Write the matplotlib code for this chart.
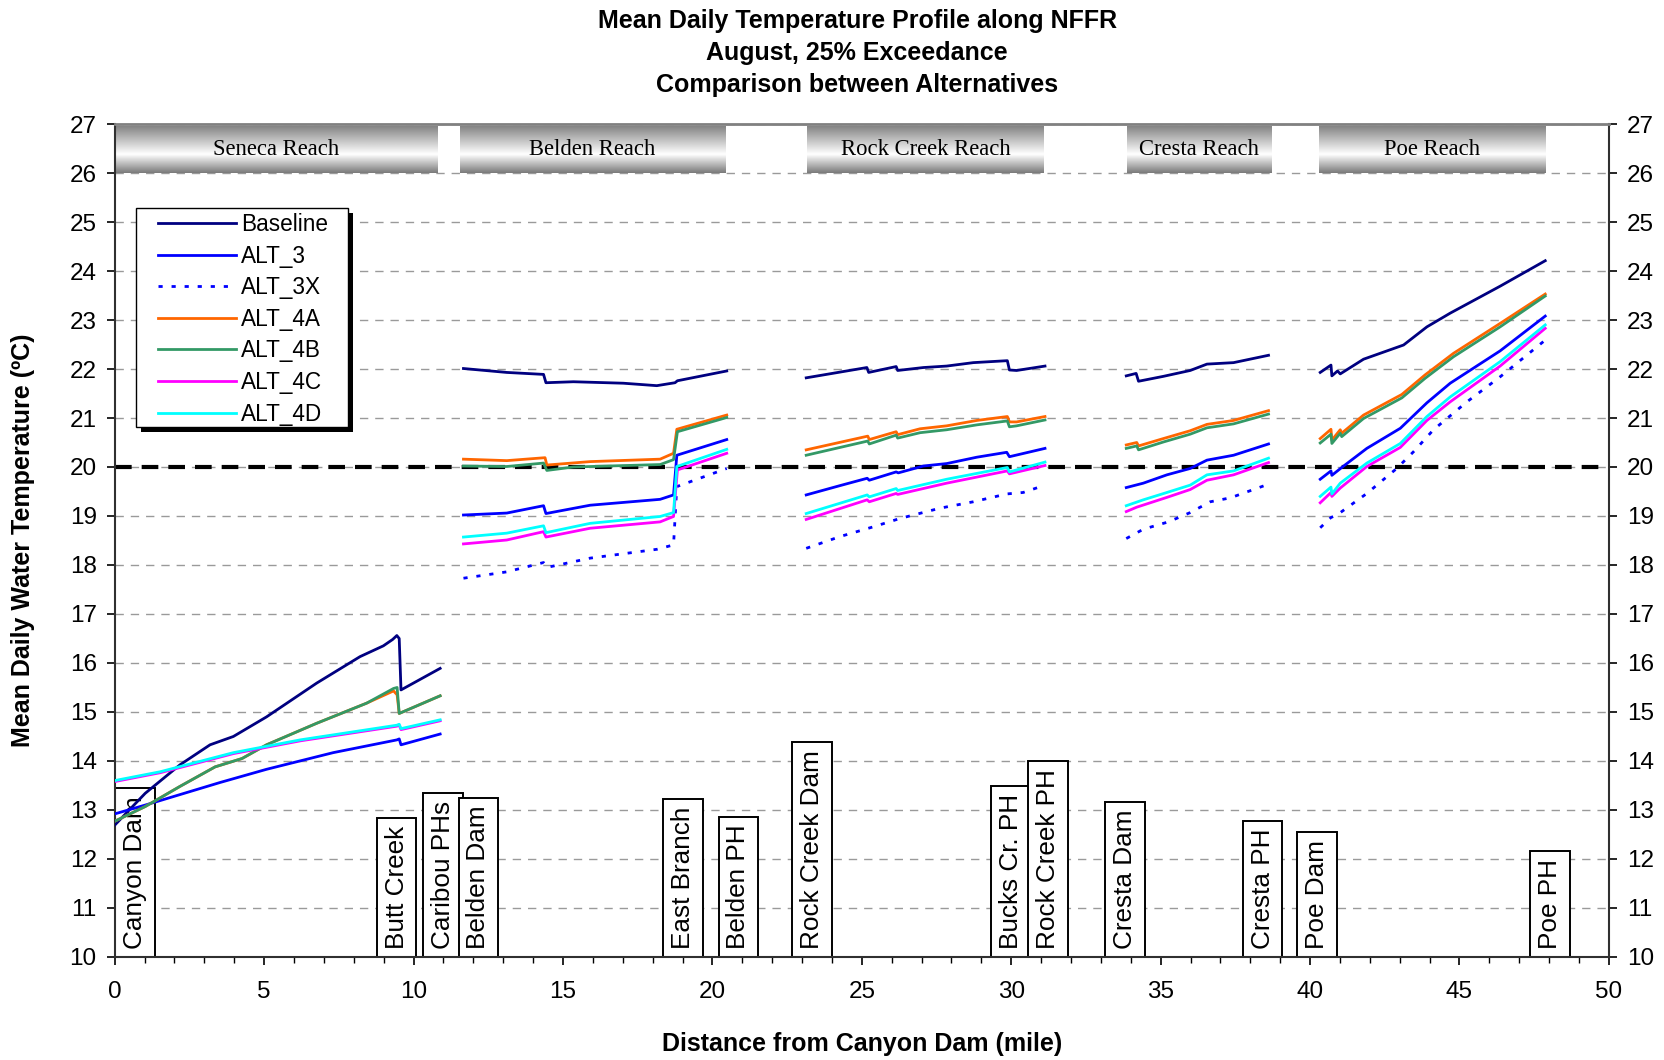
import matplotlib.pyplot as plt
import numpy as np
from matplotlib.patches import Rectangle

plt.rcParams['font.family'] = ['Liberation Sans', 'DejaVu Sans']

N = np.nan

# --- data (mile, deg C); NaN splits the reaches ---
baseline_x = [0.0, 1.02, 2.18, 3.19, 3.97, 5.08, 6.76, 8.21, 8.99, 9.30, 9.44, 9.52, 9.58, 10.89, N,
              11.67, 13.12, 14.35, 14.43, 15.35, 17.02, 18.14, 18.75, 18.83, 20.48, N,
              23.14, 25.17, 25.23, 26.15, 26.20, 27.06, 27.84, 28.73, 29.87, 29.94, 30.18, 31.13, N,
              33.85, 34.18, 34.26, 35.09, 35.99, 36.55, 37.44, 38.61, N,
              40.34, 40.70, 40.73, 40.92, 41.01, 41.79, 43.13, 43.91, 44.69, 46.36, 47.87]
baseline_y = [12.69, 13.34, 13.92, 14.33, 14.50, 14.90, 15.59, 16.13, 16.35, 16.48, 16.56, 16.50, 15.45, 15.89, N,
              22.01, 21.93, 21.89, 21.72, 21.74, 21.71, 21.66, 21.72, 21.76, 21.96, N,
              21.82, 22.03, 21.93, 22.05, 21.97, 22.03, 22.06, 22.13, 22.17, 21.98, 21.97, 22.06, N,
              21.86, 21.91, 21.75, 21.85, 21.97, 22.10, 22.13, 22.28, N,
              21.93, 22.08, 21.86, 21.96, 21.90, 22.20, 22.49, 22.86, 23.14, 23.69, 24.21]

alt3_x = [0.0, 1.02, 3.52, 5.08, 7.31, 9.44, 9.52, 9.58, 10.89, N,
          11.67, 13.12, 14.35, 14.43, 15.91, 18.25, 18.70, 18.81, 20.48, N,
          23.14, 24.27, 25.18, 25.25, 26.15, 26.22, 27.06, 27.84, 28.85, 29.85, 29.94, 31.13, N,
          33.85, 34.42, 35.21, 35.99, 36.55, 37.44, 38.61, N,
          40.34, 40.70, 40.73, 41.06, 41.90, 43.02, 43.91, 44.69, 46.36, 47.87]
alt3_y = [12.92, 13.10, 13.56, 13.83, 14.17, 14.43, 14.45, 14.33, 14.55, N,
          19.02, 19.06, 19.21, 19.05, 19.22, 19.34, 19.43, 20.24, 20.56, N,
          19.43, 19.62, 19.77, 19.73, 19.90, 19.88, 20.02, 20.07, 20.20, 20.30, 20.21, 20.38, N,
          19.58, 19.67, 19.84, 19.97, 20.14, 20.24, 20.47, N,
          19.75, 19.92, 19.83, 19.99, 20.38, 20.79, 21.31, 21.71, 22.37, 23.08]

alt3x_x = [11.67, 13.12, 14.35, 14.46, 15.91, 18.14, 18.70, 18.81, 20.48, N,
           23.14, 24.27, 25.39, 26.28, 27.62, 28.73, 29.85, 30.40, 31.13, N,
           33.85, 34.42, 35.26, 35.99, 36.66, 37.33, 38.61, N,
           40.34, 40.70, 40.90, 41.90, 42.90, 43.46, 44.13, 45.25, 46.36, 47.87]
alt3x_y = [17.73, 17.86, 18.05, 17.95, 18.14, 18.32, 18.41, 19.60, 19.97, N,
           18.34, 18.58, 18.78, 18.95, 19.16, 19.29, 19.45, 19.48, 19.63, N,
           18.54, 18.73, 18.88, 19.07, 19.29, 19.37, 19.65, N,
           18.76, 18.97, 19.02, 19.46, 19.97, 20.31, 20.76, 21.33, 21.84, 22.59]

alt4a_x = [0.0, 1.02, 2.18, 3.36, 4.26, 5.08, 6.76, 8.43, 9.33, 9.45, 9.52, 10.89, N,
           11.67, 13.12, 14.40, 14.46, 15.91, 18.25, 18.70, 18.81, 20.48, N,
           23.14, 25.20, 25.25, 26.15, 26.20, 26.95, 27.84, 28.85, 29.87, 29.94, 30.18, 31.13, N,
           33.85, 34.20, 34.26, 35.09, 35.99, 36.55, 37.44, 38.61, N,
           40.34, 40.70, 40.73, 41.01, 41.06, 41.79, 43.07, 43.85, 44.80, 46.36, 47.87]
alt4a_y = [12.77, 13.07, 13.48, 13.88, 14.05, 14.33, 14.77, 15.18, 15.43, 15.35, 14.97, 15.33, N,
           20.16, 20.13, 20.19, 20.04, 20.11, 20.16, 20.28, 20.77, 21.06, N,
           20.35, 20.63, 20.56, 20.72, 20.66, 20.78, 20.84, 20.95, 21.03, 20.92, 20.92, 21.03, N,
           20.45, 20.50, 20.43, 20.58, 20.74, 20.87, 20.95, 21.15, N,
           20.58, 20.77, 20.55, 20.76, 20.69, 21.06, 21.48, 21.88, 22.32, 22.93, 23.53]

alt4b_x = [0.0, 1.02, 2.18, 3.36, 4.26, 5.08, 6.76, 8.43, 9.33, 9.45, 9.52, 10.89, N,
           11.67, 13.12, 14.35, 14.46, 15.35, 18.25, 18.70, 18.83, 20.48, N,
           23.14, 25.20, 25.25, 26.15, 26.20, 26.95, 27.84, 28.85, 29.87, 29.94, 30.18, 31.13, N,
           33.85, 34.20, 34.26, 35.09, 35.99, 36.55, 37.44, 38.61, N,
           40.34, 40.70, 40.73, 41.01, 41.06, 41.79, 43.07, 43.85, 44.80, 46.36, 47.87]
alt4b_y = [12.77, 13.07, 13.48, 13.88, 14.05, 14.33, 14.77, 15.18, 15.48, 15.50, 14.97, 15.33, N,
           20.02, 20.01, 20.08, 19.93, 20.00, 20.05, 20.15, 20.72, 21.01, N,
           20.24, 20.53, 20.47, 20.65, 20.59, 20.70, 20.76, 20.86, 20.94, 20.82, 20.84, 20.96, N,
           20.38, 20.43, 20.35, 20.51, 20.67, 20.80, 20.88, 21.08, N,
           20.49, 20.67, 20.48, 20.69, 20.62, 20.99, 21.41, 21.81, 22.25, 22.86, 23.49]

alt4c_x = [0.0, 1.52, 3.97, 6.20, 9.44, 9.52, 9.58, 10.89, N,
           11.67, 13.12, 14.35, 14.43, 15.91, 18.25, 18.70, 18.83, 20.48, N,
           23.14, 25.18, 25.25, 26.15, 26.20, 27.84, 29.87, 29.94, 31.13, N,
           33.85, 34.20, 35.21, 35.99, 36.55, 37.44, 38.61, N,
           40.34, 40.70, 40.73, 41.01, 41.90, 43.02, 43.91, 44.69, 46.36, 47.87]
alt4c_y = [13.58, 13.76, 14.15, 14.41, 14.71, 14.73, 14.64, 14.82, N,
           18.43, 18.51, 18.68, 18.57, 18.75, 18.88, 18.99, 19.94, 20.28, N,
           18.93, 19.33, 19.29, 19.46, 19.44, 19.67, 19.92, 19.86, 20.03, N,
           19.09, 19.18, 19.38, 19.54, 19.73, 19.84, 20.09, N,
           19.27, 19.48, 19.40, 19.57, 20.01, 20.40, 20.95, 21.33, 22.06, 22.83]

alt4d_x = [0.0, 1.52, 3.97, 6.20, 9.44, 9.52, 9.58, 10.89, N,
           11.67, 13.12, 14.35, 14.43, 15.91, 18.25, 18.70, 18.81, 20.48, N,
           23.14, 25.18, 25.25, 26.15, 26.20, 27.84, 29.87, 29.94, 31.13, N,
           33.85, 34.42, 35.21, 35.99, 36.55, 37.44, 38.61, N,
           40.34, 40.70, 40.73, 41.01, 41.90, 43.02, 43.91, 44.69, 46.36, 47.87]
alt4d_y = [13.60, 13.78, 14.17, 14.43, 14.73, 14.75, 14.66, 14.84, N,
           18.57, 18.65, 18.80, 18.66, 18.85, 18.99, 19.07, 20.01, 20.36, N,
           19.05, 19.43, 19.39, 19.56, 19.52, 19.75, 19.99, 19.90, 20.10, N,
           19.21, 19.33, 19.48, 19.63, 19.84, 19.92, 20.18, N,
           19.40, 19.59, 19.45, 19.67, 20.08, 20.48, 21.03, 21.43, 22.15, 22.90]

reach_names = ["Seneca Reach", "Belden Reach", "Rock Creek Reach", "Cresta Reach", "Poe Reach"]
reach_start = [0.0, 11.55, 23.18, 33.86, 40.30]
reach_end = [10.80, 20.43, 31.11, 38.69, 47.89]

landmarks = ["Canyon Dam", "Butt Creek", "Caribou PHs", "Belden Dam", "East Branch", "Belden PH",
             "Rock Creek Dam", "Bucks Cr. PH", "Rock Creek PH", "Cresta Dam", "Cresta PH",
             "Poe Dam", "Poe PH"]
landmark_mile = [0.68, 9.43, 10.99, 12.17, 19.01, 20.87, 23.33, 30.0, 31.22, 33.81, 38.41, 40.24, 48.04]

threshold = 20

# --- figure ---
fig = plt.figure(figsize=(16.65, 10.6), dpi=100)
ax = fig.add_axes([0.0689, 0.0972, 0.8974, 0.7858])

series = [
    ("Baseline", baseline_x, baseline_y, "#000080", "-"),
    ("ALT_3", alt3_x, alt3_y, "#0000FF", "-"),
    ("ALT_3X", alt3x_x, alt3x_y, "#0000FF", (0, (1.5, 3.2))),
    ("ALT_4A", alt4a_x, alt4a_y, "#FF6600", "-"),
    ("ALT_4B", alt4b_x, alt4b_y, "#339966", "-"),
    ("ALT_4C", alt4c_x, alt4c_y, "#FF00FF", "-"),
    ("ALT_4D", alt4d_x, alt4d_y, "#00FFFF", "-"),
]
for name, xs, ys, col, ls in series:
    ax.plot(xs, ys, color=col, ls=ls, lw=2.0, label=name, zorder=3)

ax.axhline(threshold, color="black", lw=3, ls=(0, (4, 2.4)), zorder=2.5)

# reach header bars with a grey-white-grey gradient
rows = np.linspace(0, 1, 80)
grad = np.interp(rows, [0, 0.6, 1], [0.52, 1.0, 0.48])[:, None]
for name, x0, x1 in zip(reach_names, reach_start, reach_end):
    ax.imshow(grad, extent=(x0, x1, 26.0, 26.95), aspect="auto", cmap="gray",
              vmin=0, vmax=1, origin="upper", zorder=1)
    ax.text((x0 + x1) / 2, 26.48, name, ha="center", va="center",
            family="Liberation Serif", fontsize=16.3, zorder=2)

# landmark boxes
for name, m in zip(landmarks, landmark_mile):
    ax.annotate(name, xy=(m, 10), xytext=(0, 5.7), textcoords="offset points",
                rotation=90, ha="center", va="bottom", fontsize=18.8, zorder=2,
                bbox=dict(boxstyle="square,pad=0.3", fc="white", ec="black", lw=1.4))

ax.set_xlim(0, 50)
ax.set_ylim(10, 27)
ax.set_xticks(range(0, 51, 5))
ax.set_xticks(range(0, 51), minor=True)
ax.set_yticks(range(10, 28))
ax.yaxis.grid(True, color="#9a9a9a", ls=(0, (6, 5)), lw=1.0)
ax.set_axisbelow(True)

ax.tick_params(axis="x", which="major", length=6, width=1.2, pad=11, labelsize=17.5)
ax.tick_params(axis="x", which="minor", length=4, width=1.0)
ax.tick_params(axis="y", which="major", length=6, width=1.2, pad=7, labelsize=17.5,
               left=True, right=True, labelleft=True, labelright=True)

ax.spines["top"].set_color("#808080")
ax.spines["top"].set_linewidth(2)
for s in ["left", "bottom", "right"]:
    ax.spines[s].set_color("#303030")
    ax.spines[s].set_linewidth(1.5)

# legend with a hard black shadow
ax.add_patch(Rectangle((0.0177, 0.6303), 0.1419, 0.2629, transform=ax.transAxes,
                       fc="black", ec="none", zorder=4))
ax.add_patch(Rectangle((0.0143, 0.6363), 0.1419, 0.2629, transform=ax.transAxes,
                       fc="white", ec="black", lw=1.0, zorder=4.1))
ax.legend(loc="upper left", bbox_to_anchor=(0.029, 0.8932), frameon=False, fontsize=16.3,
          handlelength=3.45, handletextpad=0.22, labelspacing=0.38, borderpad=0,
          borderaxespad=0)

fig.text(0.5148, 0.9499, "Mean Daily Temperature Profile along NFFR\nAugust, 25% Exceedance\n"
         "Comparison between Alternatives", ha="center", va="center", fontsize=18,
         fontweight="bold", linespacing=1.44)
fig.text(0.5175, 0.0151, "Distance from Canyon Dam (mile)", ha="center", va="center",
         fontsize=18, fontweight="bold")
fig.text(0.0138, 0.49, "Mean Daily Water Temperature (ºC)", ha="center", va="center",
         rotation=90, fontsize=18, fontweight="bold")

plt.savefig("out.png", dpi=100)
plt.close()
